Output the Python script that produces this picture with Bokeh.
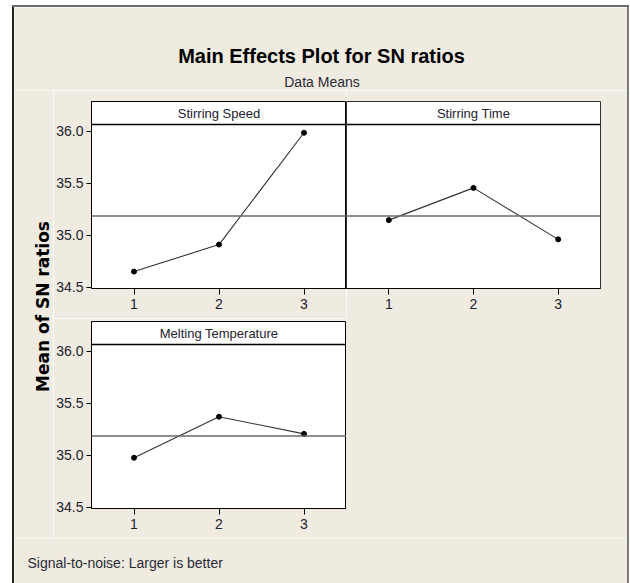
import math
from bokeh.plotting import figure
from bokeh.layouts import row, column
from bokeh.models import Range1d, FixedTicker, PrintfTickFormatter, Span, Label, Spacer
from bokeh.embed import file_html
from bokeh.resources import INLINE

# ---- data ----
factors = ["Stirring Speed", "Stirring Time", "Melting Temperature"]
levels = [1, 2, 3]
speed = [34.65, 34.91, 35.985]
stir_time = [35.145, 35.455, 34.96]
melt_temp = [34.975, 35.37, 35.205]
y_ticks = [34.5, 35.0, 35.5, 36.0]
title_text = "Main Effects Plot for SN ratios"
subtitle_text = "Data Means"
y_label_text = "Mean of SN ratios"
footer_text = "Signal-to-noise: Larger is better"

grand_mean = sum(speed + stir_time + melt_temp) / 9.0

# ---- style ----
BG = "#EFEBE0"
FONT = "Liberation Sans"
TXT = "#22222e"
Y_START, Y_END = 34.4875, 36.2856
STRIP_Y = 36.064
FRAME_H = 187


def panel(name, vals, width, ml, mr, mt, mb, show_y, outline_w=1.0):
    p = figure(width=width, height=mt + FRAME_H + mb,
               x_range=Range1d(0.5, 3.5), y_range=Range1d(Y_START, Y_END),
               output_backend="svg", toolbar_location=None, title=None,
               min_border_left=ml, min_border_right=mr,
               min_border_top=mt, min_border_bottom=mb,
               y_axis_location="left" if show_y else None,
               background_fill_color="white", border_fill_color=BG,
               outline_line_color="black", outline_line_width=outline_w)
    p.grid.visible = False
    xa = p.xaxis[0]
    xa.ticker = FixedTicker(ticks=levels)
    xa.major_tick_out = 6
    xa.major_tick_in = 0
    xa.minor_tick_out = 0
    xa.minor_tick_in = 0
    xa.major_label_standoff = 4
    xa.major_label_text_font = FONT
    xa.major_label_text_font_size = "14px"
    xa.major_label_text_color = TXT
    xa.axis_line_color = "black"
    xa.major_tick_line_color = "black"
    if show_y:
        ya = p.yaxis[0]
        ya.ticker = FixedTicker(ticks=y_ticks)
        ya.formatter = PrintfTickFormatter(format="%.1f")
        ya.major_tick_out = 5
        ya.major_tick_in = 0
        ya.minor_tick_out = 0
        ya.minor_tick_in = 0
        ya.major_label_standoff = 3
        ya.major_label_text_font = FONT
        ya.major_label_text_font_size = "14px"
        ya.major_label_text_color = TXT
        ya.axis_line_color = "black"
        ya.major_tick_line_color = "black"
    p.add_layout(Span(location=grand_mean, dimension="width",
                      line_color="#6a6a6a", line_width=1.5))
    p.add_layout(Span(location=STRIP_Y, dimension="width",
                      line_color="black", line_width=1.5))
    p.add_layout(Label(x=2, y=(STRIP_Y + Y_END) / 2, text=name,
                       text_align="center", text_baseline="middle",
                       text_font=FONT, text_font_size="13px",
                       text_color=TXT))
    p.line(levels, vals, line_color="#333333", line_width=1.1)
    p.scatter(levels, vals, size=5, color="black")
    return p


p1 = panel(factors[0], speed, 293, 38, 0, 11, 30, True)
p2 = panel(factors[1], stir_time, 281, 0, 27, 11, 30, False, 0.8)
p3 = panel(factors[2], melt_temp, 293, 38, 0, 3, 30, True)
sp = Spacer(width=281, height=220, styles={"background-color": BG})


def blank(w, h):
    f = figure(width=w, height=h, x_range=Range1d(0, w), y_range=Range1d(0, h),
               output_backend="svg", toolbar_location=None, title=None,
               min_border=0, x_axis_location=None, y_axis_location=None,
               background_fill_color=BG, border_fill_color=BG,
               outline_line_color=None)
    f.grid.visible = False
    return f


title_fig = blank(613, 83)
title_fig.add_layout(Label(x=307, y=35, text=title_text, text_align="center",
                           text_baseline="alphabetic", text_font=FONT,
                           text_font_style="bold", text_font_size="20px",
                           text_color="black"))
title_fig.add_layout(Label(x=307.5, y=9, text=subtitle_text, text_align="center",
                           text_baseline="alphabetic", text_font=FONT,
                           text_font_size="14px", text_color="#2a2a38"))

ylab_fig = blank(39, 448)
ylab_fig.add_layout(Label(x=28.5, y=232, text=y_label_text, angle=math.pi / 2,
                          text_align="center", text_baseline="middle",
                          text_font="DejaVu Sans", text_font_style="bold",
                          text_font_size="17px", text_color="black"))

footer_fig = blank(613, 45)
footer_fig.add_layout(Label(x=13, y=21, text=footer_text, text_align="left",
                            text_baseline="middle", text_font=FONT,
                            text_font_size="14px", text_color="#2a2a38"))

panels = column(row(p1, p2), row(p3, sp))
content = column(title_fig, row(ylab_fig, panels), footer_fig)

top_border = Spacer(width=617, height=2, styles={"background-color": "#6b6b6b"})
left_border = Spacer(width=2, height=576, styles={"background-color": "#222222"})
right_border = Spacer(width=2, height=576, styles={"background-color": "#7a7a7a"})

framed = column(top_border, row(left_border, content, right_border))
layout = column(Spacer(width=629, height=5), row(Spacer(width=12, height=578), framed))

open("out.html", "w").write(file_html(layout, INLINE))
